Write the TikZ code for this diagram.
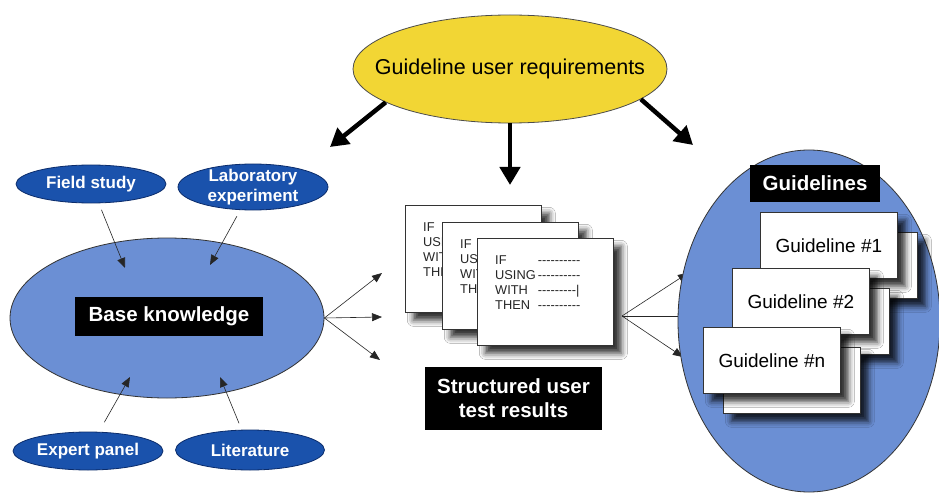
\documentclass[tikz,border=0pt]{standalone}
\usepackage{fontspec}
\setmainfont{Liberation Sans}
\usetikzlibrary{shapes.geometric,arrows.meta,shadows.blur}
\definecolor{ylw}{HTML}{F2D634}
\definecolor{dblue}{HTML}{1A52AC}
\definecolor{dbord}{HTML}{0B2C6B}
\definecolor{lblue}{HTML}{6B8FD4}
\newcommand{\hyp}{\mbox{-}}
\newcommand{\hyrow}{\hyp\hyp\hyp\hyp\hyp\hyp\hyp\hyp\hyp\hyp}
\newcommand{\hyrowb}{\hyp\hyp\hyp\hyp\hyp\hyp\hyp\hyp\hyp|}
\newcommand{\cardcontent}{\begin{tabular}{@{}l@{\,}l@{}}IF & \hyrow\\ USING & \hyrow\\ WITH & \hyrowb\\ THEN & \hyrow\end{tabular}}
\newcommand{\cardwords}{\begin{tabular}{@{}l@{}}IF\\ USING\\ WITH\\ THEN\end{tabular}}
\begin{document}
\begin{tikzpicture}[x=1pt,y=-1pt,
  smallell/.style={ellipse, fill=dblue, draw=dbord, line width=0.8pt, text=white,
    font=\fontsize{17}{20}\selectfont\bfseries, inner xsep=0pt, inner ysep=-3pt, align=center},
  bigell/.style={ellipse, fill=lblue, draw=black!80, line width=0.8pt, inner sep=0pt},
  blacklabel/.style={fill=black, text=white, font=\fontsize{20.5}{24}\selectfont\bfseries,
    align=center, inner sep=0pt},
  myshadow/.style={blur shadow={shadow xshift=8pt, shadow yshift=-8pt, shadow blur radius=6pt, shadow opacity=80}},
  card/.style={draw=black!80, fill=white, line width=0.7pt, minimum width=136pt,
    minimum height=107pt, anchor=north west, inner sep=0pt, myshadow},
  cardtext/.style={anchor=north west, font=\fontsize{12.8}{15}\selectfont, inner sep=0pt, text=black!85},
  gcard/.style={draw=black!80, fill=white, line width=0.7pt, minimum width=137pt,
    minimum height=66pt, anchor=north west, inner sep=0pt, font=\fontsize{19}{21}\selectfont, myshadow},
  arrowthin/.style={-{Triangle[length=10pt,width=8pt]}, line width=0.6pt, draw=black!85},
  arrowthick/.style={-{Triangle[length=18pt,width=20pt]}, line width=4.5pt}]
\clip (0,0) rectangle (939,497);
\fill[white] (0,0) rectangle (939,497);

% top requirement ellipse
\node[ellipse, fill=ylw, draw=black!70, line width=0.8pt, inner sep=0pt, minimum width=314pt,
  minimum height=108pt] (req) at (510,69) {};
\node[font=\fontsize{21.5}{24}\selectfont, inner sep=0pt] (reqt) at (req.center) {Guideline user requirements};
\coordinate (tl) at (330,147);
\coordinate (tm) at (510,185);
\coordinate (tr) at (693,145);
\draw[arrowthick] (req.195) -- (tl);
\draw[arrowthick] (req.south) -- (tm);
\draw[arrowthick] (req.-13) -- (tr);

% base knowledge
\node[bigell, minimum width=314pt, minimum height=160pt] (bk) at (167,318) {};
\node[blacklabel, minimum width=188pt, minimum height=39pt] (bklab) at (169,316) {Base knowledge};

\node[smallell, minimum width=150pt, minimum height=38pt] (fs) at (91,184) {Field study};
\node[smallell, minimum width=150pt, minimum height=46pt] (lab) at (253,187) {Laboratory\\experiment};
\node[smallell, minimum width=150pt, minimum height=38pt] (ep) at (88,451) {Expert panel};
\node[smallell, minimum width=149pt, minimum height=40pt] (lit) at (250,450) {Literature};

\coordinate (bfs) at (125,268);
\coordinate (blab) at (210,265);
\coordinate (bep) at (130,377);
\coordinate (blit) at (220,377);
\draw[arrowthin, shorten <=7pt] (fs) -- (bfs);
\draw[arrowthin, shorten <=7pt] (lab) -- (blab);
\draw[arrowthin, shorten <=11pt] (ep) -- (bep);
\draw[arrowthin, shorten <=7pt] (lit) -- (blit);

\coordinate (o1) at (382,273);
\coordinate (o2) at (382,317);
\coordinate (o3) at (380,360);
\draw[arrowthin] (bk.east) -- (o1);
\draw[arrowthin] (bk.east) -- (o2);
\draw[arrowthin] (bk.east) -- (o3);

% structured test result cards
\node[card] (c1) at (405,205) {};
\node[cardtext] (c1t) at (423,221) {\cardwords};
\node[card] (c2) at (442,222) {};
\node[cardtext] (c2t) at (460,238) {\cardwords};
\node[card] (c3) at (477,238) {};
\node[cardtext] (c3t) at (495,254) {\cardcontent};

\node[blacklabel, minimum width=177pt, minimum height=63pt] (sr) at (513.5,398.5) {Structured user\\test results};

\coordinate (cs) at (622,316);
\coordinate (g1) at (688,273);
\coordinate (g2) at (697,316);
\coordinate (g3) at (683,357);
\draw[arrowthin] (cs) -- (g1);
\draw[arrowthin] (cs) -- (g2);
\draw[arrowthin] (cs) -- (g3);

% guidelines
\node[bigell, minimum width=262pt, minimum height=342pt] (gl) at (809,321) {};
\node[blacklabel, minimum width=130pt, minimum height=37pt] (gllab) at (815,183.5) {Guidelines};
\node[gcard] (gb1) at (780,232) {};
\node[gcard] (gf1) at (760,212) {Guideline \#1};
\node[gcard] (gb2) at (752,288) {};
\node[gcard] (gf2) at (732,268) {Guideline \#2};
\node[gcard] (gbn) at (723,347) {};
\node[gcard] (gfn) at (703,327) {Guideline \#n};
\end{tikzpicture}
\end{document}
